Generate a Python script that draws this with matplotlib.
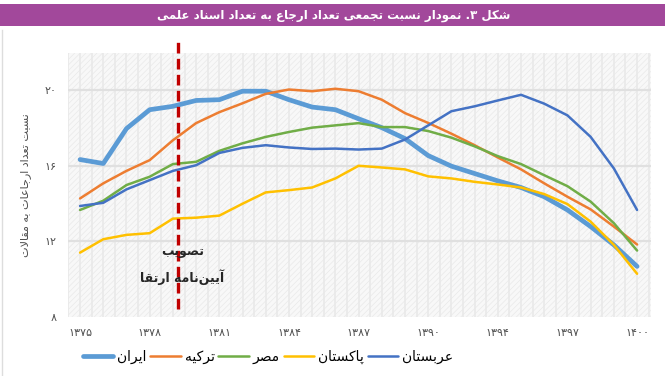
import matplotlib
matplotlib.use('Agg')
import matplotlib.pyplot as plt
from matplotlib.patches import Rectangle
from matplotlib.lines import Line2D

# ---------------- data ----------------
years = list(range(1375, 1392)) + [1393] + list(range(1394, 1401))
iran = [16.34, 16.13, 17.98, 18.98, 19.16, 19.47, 19.51, 19.96, 19.96, 19.51, 19.12, 18.98, 18.50,
        18.03, 17.45, 16.55, 15.99, 15.60, 15.21, 14.86, 14.37, 13.67, 12.79, 11.82, 10.68]
turkey = [14.28, 15.08, 15.74, 16.31, 17.36, 18.27, 18.85, 19.32, 19.82, 20.05, 19.96, 20.09, 19.96,
          19.51, 18.80, 18.28, 17.71, 17.10, 16.45, 15.82, 15.08, 14.37, 13.70, 12.79, 11.84]
egypt = [13.67, 14.16, 14.99, 15.43, 16.10, 16.22, 16.80, 17.20, 17.54, 17.80, 18.03, 18.15, 18.27,
         18.06, 18.06, 17.85, 17.50, 17.04, 16.52, 16.10, 15.51, 14.93, 14.11, 12.97, 11.52]
pakistan = [11.41, 12.12, 12.35, 12.44, 13.21, 13.26, 13.37, 14.00, 14.60, 14.72, 14.86, 15.34, 16.01,
            15.92, 15.82, 15.45, 15.34, 15.16, 15.02, 14.86, 14.51, 13.98, 13.05, 11.82, 10.29]
arabia = [13.88, 14.05, 14.76, 15.25, 15.74, 16.04, 16.69, 16.96, 17.10, 16.98, 16.90, 16.92, 16.87,
          16.92, 17.40, 18.15, 18.90, 19.16, 19.47, 19.77, 19.30, 18.68, 17.54, 15.87, 13.67]
series_names = ['ایران', 'ترکیه', 'مصر', 'پاکستان', 'عربستان']
y_ticks = [8, 12, 16, 20]
event_pos = 4.2          # category position of the regulation approval
title = 'شکل ۳. نمودار نسبت تجمعی تعداد ارجاع به تعداد اسناد علمی'
ylabel = 'نسبت تعداد ارجاعات به مقالات'
event_lines = ['تصویب', 'آیین\u200cنامه ارتقا']

# ---------------- minimal Arabic/Persian shaping ----------------
F = {
    '\u0621': ('\uFE80', None, None, None),
    '\u0622': ('\uFE81', '\uFE82', None, None),
    '\u0623': ('\uFE83', '\uFE84', None, None),
    '\u0624': ('\uFE85', '\uFE86', None, None),
    '\u0625': ('\uFE87', '\uFE88', None, None),
    '\u0626': ('\uFE89', '\uFE8A', '\uFE8B', '\uFE8C'),
    '\u0627': ('\uFE8D', '\uFE8E', None, None),
    '\u0628': ('\uFE8F', '\uFE90', '\uFE91', '\uFE92'),
    '\u0629': ('\uFE93', '\uFE94', None, None),
    '\u062A': ('\uFE95', '\uFE96', '\uFE97', '\uFE98'),
    '\u062B': ('\uFE99', '\uFE9A', '\uFE9B', '\uFE9C'),
    '\u062C': ('\uFE9D', '\uFE9E', '\uFE9F', '\uFEA0'),
    '\u062D': ('\uFEA1', '\uFEA2', '\uFEA3', '\uFEA4'),
    '\u062E': ('\uFEA5', '\uFEA6', '\uFEA7', '\uFEA8'),
    '\u062F': ('\uFEA9', '\uFEAA', None, None),
    '\u0630': ('\uFEAB', '\uFEAC', None, None),
    '\u0631': ('\uFEAD', '\uFEAE', None, None),
    '\u0632': ('\uFEAF', '\uFEB0', None, None),
    '\u0633': ('\uFEB1', '\uFEB2', '\uFEB3', '\uFEB4'),
    '\u0634': ('\uFEB5', '\uFEB6', '\uFEB7', '\uFEB8'),
    '\u0635': ('\uFEB9', '\uFEBA', '\uFEBB', '\uFEBC'),
    '\u0636': ('\uFEBD', '\uFEBE', '\uFEBF', '\uFEC0'),
    '\u0637': ('\uFEC1', '\uFEC2', '\uFEC3', '\uFEC4'),
    '\u0638': ('\uFEC5', '\uFEC6', '\uFEC7', '\uFEC8'),
    '\u0639': ('\uFEC9', '\uFECA', '\uFECB', '\uFECC'),
    '\u063A': ('\uFECD', '\uFECE', '\uFECF', '\uFED0'),
    '\u0641': ('\uFED1', '\uFED2', '\uFED3', '\uFED4'),
    '\u0642': ('\uFED5', '\uFED6', '\uFED7', '\uFED8'),
    '\u0643': ('\uFED9', '\uFEDA', '\uFEDB', '\uFEDC'),
    '\u0644': ('\uFEDD', '\uFEDE', '\uFEDF', '\uFEE0'),
    '\u0645': ('\uFEE1', '\uFEE2', '\uFEE3', '\uFEE4'),
    '\u0646': ('\uFEE5', '\uFEE6', '\uFEE7', '\uFEE8'),
    '\u0647': ('\uFEE9', '\uFEEA', '\uFEEB', '\uFEEC'),
    '\u0648': ('\uFEED', '\uFEEE', None, None),
    '\u0649': ('\uFEEF', '\uFEF0', None, None),
    '\u064A': ('\uFEF1', '\uFEF2', '\uFEF3', '\uFEF4'),
    '\u067E': ('\uFB56', '\uFB57', '\uFB58', '\uFB59'),
    '\u0686': ('\uFB7A', '\uFB7B', '\uFB7C', '\uFB7D'),
    '\u0698': ('\uFB8A', '\uFB8B', None, None),
    '\u06A9': ('\uFB8E', '\uFB8F', '\uFB90', '\uFB91'),
    '\u06AF': ('\uFB92', '\uFB93', '\uFB94', '\uFB95'),
    '\u06CC': ('\uFBFC', '\uFBFD', '\uFBFE', '\uFBFF'),
}
LAMALEF = {'\u0627': ('\uFEFB', '\uFEFC'), '\u0622': ('\uFEF5', '\uFEF6'),
           '\u0623': ('\uFEF7', '\uFEF8'), '\u0625': ('\uFEF9', '\uFEFA')}
DIGITS = set('0123456789\u06F0\u06F1\u06F2\u06F3\u06F4\u06F5\u06F6\u06F7\u06F8\u06F9')


def shape(text):
    out = []
    n = len(text)
    i = 0
    while i < n:
        c = text[i]
        if c not in F:
            out.append(c)
            i += 1
            continue
        prev = text[i - 1] if i > 0 else ''
        joins_prev = prev in F and F[prev][2] is not None
        if c == '\u0644' and i + 1 < n and text[i + 1] in LAMALEF:
            out.append(LAMALEF[text[i + 1]][1 if joins_prev else 0])
            i += 2
            continue
        nxt = text[i + 1] if i + 1 < n else ''
        joins_next = F[c][2] is not None and nxt in F
        forms = F[c]
        if joins_prev and joins_next:
            g = forms[3]
        elif joins_prev:
            g = forms[1]
        elif joins_next:
            g = forms[2]
        else:
            g = forms[0]
        out.append(g)
        i += 1
    s = ''.join(out).replace('\u200c', '')
    runs = []
    for ch in s:
        isd = ch in DIGITS
        if runs and runs[-1][0] == isd and isd:
            runs[-1][1].append(ch)
        else:
            runs.append((isd, [ch]))
    vis = []
    for isd, chs in reversed(runs):
        vis.append(''.join(chs) if isd else ''.join(reversed(chs)))
    return ''.join(vis)


def fa_digits(v):
    return str(v).translate(str.maketrans('0123456789', '۰۱۲۳۴۵۶۷۸۹'))


# ---------------- figure ----------------
plt.rcParams['font.family'] = ['DejaVu Sans']
plt.rcParams['hatch.linewidth'] = 0.5
W, H = 665, 376
fig = plt.figure(figsize=(W / 100, H / 100), dpi=100)
fig.patch.set_facecolor('white')

# title bar
fig.patches.append(Rectangle((0, 1 - 26 / H), 1, 22 / H, transform=fig.transFigure,
                             facecolor='#a2489b', edgecolor='none', zorder=0))
fig.text(334 / W, 1 - 15 / H, shape(title), color='white', fontsize=8.5, fontweight='bold',
         ha='center', va='center')
fig.add_artist(Line2D([1.5 / W, 1.5 / W], [0, 1 - 30 / H], transform=fig.transFigure,
                      color='#dddddd', lw=1))

ax = fig.add_axes([68 / W, 1 - 317 / H, (651 - 68) / W, (317 - 52.7) / H])
ax.set_facecolor('#f8f8f8')
ax.add_patch(Rectangle((0, 0), 1, 1, transform=ax.transAxes, facecolor='none',
                       edgecolor='#e9e9e9', hatch='//////', lw=0, zorder=0))
x = list(range(len(years)))
for k in range(-1, 2 * len(years) + 1):
    ax.axvline(k / 2 - 0.5, color='#e8e8e8', lw=1.1, zorder=0.5)
for yt in y_ticks[1:]:
    ax.axhline(yt, color='#e0e0e0', lw=1.6, zorder=0.6)

colors = ['#5B9BD5', '#ED7D31', '#70AD47', '#FFC000', '#4472C4']
widths = [3.4, 1.8, 1.8, 1.8, 1.8]
handles = []
for vals, c, lw, name in zip([iran, turkey, egypt, pakistan, arabia], colors, widths, series_names):
    h, = ax.plot(x, vals, color=c, lw=lw, solid_capstyle='round', solid_joinstyle='round',
                 label=shape(name), zorder=3)
    handles.append(h)

ax.set_xlim(-0.52, len(years) - 0.4)
ax.set_ylim(8, 22)
ax.set_yticks(y_ticks)
ax.set_yticklabels([fa_digits(v) for v in y_ticks])
tick_idx = list(range(0, len(years), 3))
ax.set_xticks(tick_idx)
ax.set_xticklabels([fa_digits(years[i]) for i in tick_idx])
ax.tick_params(length=0, labelsize=8, labelcolor='#505050')
ax.tick_params(axis='y', pad=8)
ax.tick_params(axis='x', pad=8)
for s in ax.spines.values():
    s.set_visible(False)
ax.set_ylabel(shape(ylabel), fontsize=8, color='#505050', labelpad=10)

# event line and annotation
ax.plot([event_pos, event_pos], [8.45, 22.65], color='#c00000', lw=2.4,
        dashes=(3.2, 1.6), clip_on=False, zorder=4)
ax.text(event_pos + 0.22, 11.45, shape(event_lines[0]), fontsize=9,
        fontweight='bold', color='#262626', ha='center', va='center', zorder=5)
ax.text(event_pos + 0.18, 10.13, shape(event_lines[1]), fontsize=9,
        fontweight='bold', color='#262626', ha='center', va='center', zorder=5)

fig.legend(handles=handles, loc='center', bbox_to_anchor=(268 / W, 1 - 357 / H), ncol=5,
           frameon=False, fontsize=10, handlelength=2.2, handletextpad=0.3,
           columnspacing=0.25, borderpad=0)

fig.savefig('out.png', dpi=100, facecolor='white')
